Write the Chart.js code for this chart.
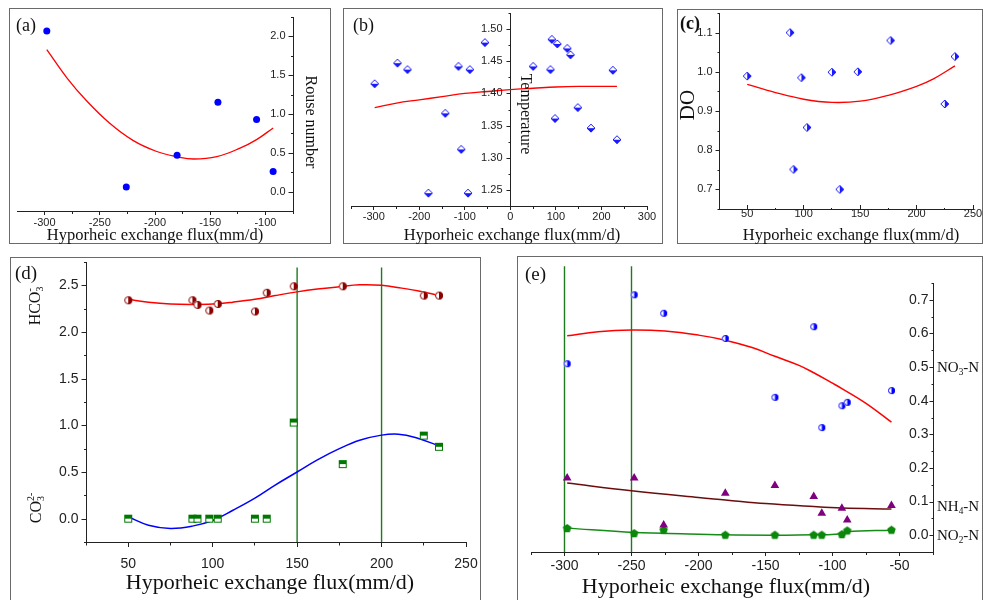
<!DOCTYPE html>
<html>
<head>
<meta charset="utf-8">
<script src="https://cdn.jsdelivr.net/npm/chart.js@4.4.1/dist/chart.umd.min.js"></script>
<style>
html, body { margin: 0; padding: 0; background: #fff; }
#wrap { position: relative; width: 983px; height: 600px; overflow: hidden; background: #fff; }
#wrap canvas { position: absolute; left: 0; top: 0; }
.box { position: absolute; border: 1px solid #6a6a6a; box-sizing: border-box; }
</style>
</head>
<body>
<div id="wrap">
  <div class="box" style="left:9px;top:8px;width:322px;height:236px"></div>
  <div class="box" style="left:343px;top:8px;width:320px;height:236px"></div>
  <div class="box" style="left:677px;top:9px;width:306px;height:235px"></div>
  <div class="box" style="left:10px;top:257px;width:471px;height:350px"></div>
  <div class="box" style="left:517px;top:256px;width:466px;height:350px"></div>
  <canvas id="ca" width="983" height="600"></canvas>
  <canvas id="cb" width="983" height="600"></canvas>
  <canvas id="cc" width="983" height="600"></canvas>
  <canvas id="cd" width="983" height="600"></canvas>
  <canvas id="ce" width="983" height="600"></canvas>
</div>
<script>
// (a) Rouse number
const rouseFlux = [-298, -226, -180, -143, -108, -93];
const rouseNum = [2.07, 0.06, 0.47, 1.15, 0.93, 0.26];
const rouseFitFlux = [-298, -280, -262, -241, -220, -199, -180, -165, -144, -123, -108, -93];
const rouseFitVal = [1.83, 1.47, 1.17, 0.88, 0.66, 0.52, 0.45, 0.42, 0.45, 0.56, 0.67, 0.82];

// (b) temperature
const tempFlux = [-298, -248, -226, -180, -143, -114, -108, -93, -89, -56, 50, 88, 91, 98, 103, 125, 132, 148, 177, 225, 234];
const tempVal = [1.415, 1.447, 1.437, 1.245, 1.369, 1.442, 1.313, 1.245, 1.437, 1.479, 1.442, 1.437, 1.484, 1.361, 1.477, 1.470, 1.460, 1.378, 1.346, 1.436, 1.328];
const tempFitFlux = [-298, -250, -200, -150, -100, -50, 0, 50, 100, 150, 200, 234];
const tempFitVal = [1.378, 1.385, 1.390, 1.395, 1.400, 1.403, 1.406, 1.408, 1.410, 1.411, 1.411, 1.411];

// (c) DO
const doFlux = [50, 88, 91, 98, 103, 125, 132, 148, 177, 225, 234];
const doVal = [0.989, 1.10, 0.751, 0.985, 0.858, 0.999, 0.70, 1.0, 1.08, 0.918, 1.039];
const doFitFlux = [50, 75, 100, 125, 150, 175, 200, 215, 234];
const doFitVal = [0.968, 0.947, 0.930, 0.922, 0.925, 0.940, 0.963, 0.982, 1.015];

// (d) HCO3- / CO3 2-
const carbFlux = [50, 88, 91, 98, 103, 125, 132, 148, 177, 225, 234];
const hco3 = [2.34, 2.34, 2.29, 2.23, 2.30, 2.22, 2.42, 2.49, 2.49, 2.39, 2.39];
const co3 = [0, 0, 0, 0, 0, 0, 0, 1.03, 0.585, 0.89, 0.77];
const hco3FitFlux = [50, 62, 75, 87, 100, 112, 125, 137, 150, 162, 175, 187, 200, 212, 222, 234];
const hco3FitVal = [2.35, 2.32, 2.30, 2.295, 2.30, 2.32, 2.35, 2.39, 2.43, 2.46, 2.485, 2.505, 2.50, 2.47, 2.44, 2.39];
const co3FitFlux = [50, 62, 75, 88, 100, 112, 125, 137, 150, 162, 175, 187, 200, 210, 220, 234];
const co3FitVal = [0.02, -0.07, -0.105, -0.08, -0.02, 0.09, 0.22, 0.36, 0.5, 0.63, 0.75, 0.84, 0.895, 0.905, 0.87, 0.78];
const carbMarks = [150, 200];
const carbMarkSpan = [-0.25, 2.69];

// (e) nitrogen
const nFlux = [-298, -248, -226, -180, -143, -114, -108, -93, -89, -56];
const no3 = [0.51, 0.715, 0.66, 0.585, 0.41, 0.62, 0.32, 0.385, 0.395, 0.43];
const nh4 = [0.17, 0.17, 0.03, 0.125, 0.148, 0.115, 0.065, 0.08, 0.045, 0.088];
const no2 = [0.02, 0.005, 0.015, 0.0, 0.0, 0.0, 0.0, 0.002, 0.013, 0.015];
const no3FitFlux = [-298, -275, -250, -225, -200, -180, -160, -143, -125, -114, -100, -93, -75, -56];
const no3FitVal = [0.593, 0.605, 0.61, 0.607, 0.595, 0.58, 0.558, 0.532, 0.505, 0.483, 0.452, 0.436, 0.392, 0.336];
const nh4FitFlux = [-298, -250, -200, -180, -150, -114, -93, -56];
const nh4FitVal = [0.155, 0.132, 0.112, 0.105, 0.094, 0.085, 0.081, 0.078];
const no2FitVal = [0.021, 0.008, 0.006, 0.001, 0.0, 0.001, 0.001, 0.004, 0.01, 0.015];
const nMarks = [-300, -250];
const nMarkSpan = [-0.05, 0.80];

// tick values
const xTicksA = [-300, -250, -200, -150, -100], xMinorA = [-275, -225, -175, -125, -75];
const yTicksA = [0, 0.5, 1, 1.5, 2], yMinorA = [-0.25, 0.25, 0.75, 1.25, 1.75, 2.25];
const xTicksB = [-300, -200, -100, 0, 100, 200, 300], xMinorB = [-350, -250, -150, -50, 50, 150, 250];
const yTicksB = [1.25, 1.30, 1.35, 1.40, 1.45, 1.50], yMinorB = [1.275, 1.325, 1.375, 1.425, 1.475, 1.525];
const xTicksC = [50, 100, 150, 200, 250], xMinorC = [25, 75, 125, 175, 225];
const yTicksC = [0.7, 0.8, 0.9, 1.0, 1.1], yMinorC = [0.65, 0.75, 0.85, 0.95, 1.05, 1.15];
const xTicksD = [50, 100, 150, 200, 250], xMinorD = [25, 75, 125, 175, 225];
const yTicksD = [0, 0.5, 1, 1.5, 2, 2.5], yMinorD = [-0.25, 0.25, 0.75, 1.25, 1.75, 2.25, 2.75];
const xTicksE = [-300, -250, -200, -150, -100, -50], xMinorE = [-325, -275, -225, -175, -125, -75, -25];
const yTicksE = [0, 0.1, 0.2, 0.3, 0.4, 0.5, 0.6, 0.7], yMinorE = [-0.05, 0.05, 0.15, 0.25, 0.35, 0.45, 0.55, 0.65, 0.75];

Chart.defaults.font.family = '"Liberation Sans", Arial, sans-serif';
Chart.defaults.color = '#222';

const SANS = '"Liberation Sans", Arial, sans-serif';
const SERIF = '"Liberation Serif", "Times New Roman", serif';
const pts = (xs, ys) => xs.map((x, i) => ({ x, y: ys[i] }));
const vline = (x, span) => [{ x, y: span[0] }, { x, y: span[1] }];
const f0 = v => String(v), f1 = v => v.toFixed(1), f2 = v => v.toFixed(2);

// small marker images (half filled symbols as in Origin)
function makeMarker(size, paint) {
    const c = document.createElement('canvas');
    c.width = size; c.height = size;
    paint(c.getContext('2d'), size / 2);
    return c;
}
const halfCircle = (color, d) => makeMarker(d + 2, (g, c) => {
    const r = d / 2;
    g.fillStyle = '#fff';
    g.beginPath(); g.arc(c, c, r, 0, Math.PI * 2); g.fill();
    g.fillStyle = color;
    g.beginPath(); g.arc(c, c, r, -Math.PI / 2, Math.PI / 2); g.closePath(); g.fill();
    g.strokeStyle = color; g.lineWidth = 1;
    g.beginPath(); g.arc(c, c, r - 0.5, 0, Math.PI * 2); g.stroke();
});
const halfDiamond = (color, d, side) => makeMarker(d + 2, (g, c) => {
    const r = d / 2;
    const path = () => { g.beginPath(); g.moveTo(c, c - r); g.lineTo(c + r, c); g.lineTo(c, c + r); g.lineTo(c - r, c); g.closePath(); };
    path(); g.fillStyle = '#fff'; g.fill();
    g.save();
    g.beginPath();
    if (side === 'bottom') g.rect(0, c, 2 * c, c); else g.rect(c, 0, c, 2 * c);
    g.clip();
    path(); g.fillStyle = color; g.fill();
    g.restore();
    path(); g.strokeStyle = color; g.lineWidth = 1; g.stroke();
});
const halfSquare = (color, d) => makeMarker(d + 2, (g, c) => {
    const h = d / 2;
    g.fillStyle = '#fff'; g.fillRect(c - h, c - h, d, d);
    g.fillStyle = color; g.fillRect(c - h, c - h, d, h);
    g.strokeStyle = color; g.lineWidth = 1; g.strokeRect(c - h + 0.5, c - h + 0.5, d - 1, d - 1);
});
const pentagon = (color, d) => makeMarker(d + 2, (g, c) => {
    const r = d / 2;
    g.beginPath();
    for (let i = 0; i < 5; i++) {
        const a = -Math.PI / 2 + i * 2 * Math.PI / 5;
        g.lineTo(c + r * Math.cos(a), c + r * Math.sin(a));
    }
    g.closePath(); g.fillStyle = color; g.fill();
});

// rich text: parts [{t, s:'sub'|'sup', over}] ; positions in page px
function drawRich(ctx, it) {
    const font = s => (it.bold ? 'bold ' : '') + s + 'px ' + SERIF;
    let x = 0, prevX = 0;
    const parts = it.parts.map(p => {
        const s = p.s ? it.size * 0.62 : it.size;
        ctx.font = font(s);
        const w = ctx.measureText(p.t).width;
        const x0 = p.over ? prevX : x;
        prevX = x0;
        x = Math.max(x, x0 + w);
        return { t: p.t, s, x0, dy: p.s === 'sub' ? it.size * 0.3 : p.s === 'sup' ? -it.size * 0.33 : 0 };
    });
    const start = it.align === 'left' ? 0 : -x / 2;
    ctx.save();
    ctx.translate(it.x, it.y);
    if (it.rot) ctx.rotate(it.rot);
    ctx.fillStyle = '#111';
    ctx.textBaseline = 'middle';
    ctx.textAlign = 'left';
    parts.forEach(p => { ctx.font = font(p.s); ctx.fillText(p.t, start + p.x0, p.dy); });
    ctx.restore();
}
const plain = t => [{ t }];
const xTitle = (x, y, size) => ({ parts: plain('Hyporheic exchange flux(mm/d)'), x, y, size });

// y axis ticks + labels, placed with the chart's own scales (ticks point left)
function drawYTicks(chart, ya) {
    const ctx = chart.ctx, sy = chart.scales.y;
    const ax = Math.round(chart.scales.x.getPixelForValue(ya.at)) + 0.5;
    ctx.save();
    ctx.strokeStyle = '#222'; ctx.lineWidth = 1;
    ctx.beginPath();
    ya.major.forEach(v => { const y = Math.round(sy.getPixelForValue(v)) + 0.5; ctx.moveTo(ax, y); ctx.lineTo(ax - ya.tl, y); });
    ya.minor.forEach(v => { const y = Math.round(sy.getPixelForValue(v)) + 0.5; ctx.moveTo(ax, y); ctx.lineTo(ax - ya.tl / 2, y); });
    ctx.stroke();
    ctx.fillStyle = '#222';
    ctx.font = ya.fs + 'px ' + SANS;
    ctx.textAlign = 'right'; ctx.textBaseline = 'middle';
    ya.major.forEach(v => ctx.fillText(ya.fmt(v), ax - ya.tl - ya.pad, sy.getPixelForValue(v)));
    ctx.restore();
}
const overlay = (texts, ya) => ({
    id: 'panelText',
    afterDraw(chart) {
        drawYTicks(chart, ya);
        texts.forEach(it => drawRich(chart.ctx, it));
    }
});

function axisX(major, minor, fmt, o) {
    return {
        type: 'linear', position: 'bottom', min: o.min, max: o.max,
        afterBuildTicks: s => { s.ticks = major.concat(minor).sort((a, b) => a - b).map(v => ({ value: v })); },
        afterFit: s => { s.height = 40; s.paddingLeft = 0; s.paddingRight = 0; },
        border: { color: '#222', width: 1 },
        grid: {
            drawOnChartArea: false, drawTicks: true, tickLength: o.tl, tickColor: '#222', tickWidth: 1,
            tickBorderDash: c => (c.tick && !major.includes(c.tick.value)) ? [Math.abs(o.tl) / 2, 100] : []
        },
        ticks: {
            autoSkip: false, maxRotation: 0, padding: o.pad, font: { size: o.fs }, color: '#222',
            callback: v => major.includes(v) ? fmt(v) : ''
        }
    };
}
function axisY(ya) {
    return {
        type: 'linear', axis: 'y', position: { x: ya.at }, min: ya.min, max: ya.max,
        border: { color: '#222', width: 1 },
        grid: { drawOnChartArea: false, drawTicks: false },
        ticks: { display: false }
    };
}

const fitLine = (data, color, w) => ({ data, showLine: true, pointRadius: 0, borderColor: color, borderWidth: w || 1.5, tension: 0.4, fill: false, order: 5 });
const markLine = (data, color) => ({ data, showLine: true, pointRadius: 0, borderColor: color, borderWidth: 1.4, tension: 0, clip: false, order: 6 });
const scatter = (data, style, color, r) => ({ data, showLine: false, pointStyle: style, pointRadius: r || 4, backgroundColor: color, borderColor: color, borderWidth: 0, order: 1 });

function panel(id, rect, datasets, xAxis, ya, texts) {
    return new Chart(document.getElementById(id), {
        type: 'scatter',
        data: { datasets },
        options: {
            responsive: false, animation: false, events: [],
            layout: { padding: { left: rect.l, top: rect.t, right: 983 - rect.r, bottom: 600 - rect.b - 40 } },
            plugins: { legend: { display: false }, tooltip: { enabled: false } },
            scales: { x: xAxis, y: axisY(ya) }
        },
        plugins: [overlay(texts, ya)]
    });
}

// (a)
panel('ca', { l: 17, t: 17, r: 293, b: 211 }, [
    scatter(pts(rouseFlux, rouseNum), 'circle', '#0000ff', 3.5),
    fitLine(pts(rouseFitFlux, rouseFitVal), '#ff0000', 1.3)
], axisX(xTicksA, xMinorA, f0, { min: -325, max: -75, tl: 4, pad: 1, fs: 11 }),
{ major: yTicksA, minor: yMinorA, fmt: f1, min: -0.25, max: 2.25, tl: 5, pad: 3, fs: 11, at: -75 },
[
    { parts: plain('(a)'), x: 16, y: 26, size: 18, align: 'left' },
    { parts: plain('Rouse number'), x: 310, y: 122, size: 16, rot: Math.PI / 2 },
    xTitle(155, 236, 16.5)
]);

// (b)
panel('cb', { l: 351, t: 13, r: 647, b: 206 }, [
    scatter(pts(tempFlux, tempVal), halfDiamond('#1a1aff', 8, 'bottom'), '#1a1aff'),
    fitLine(pts(tempFitFlux, tempFitVal), '#ff0000', 1.3)
], axisX(xTicksB, xMinorB, f0, { min: -350, max: 300, tl: 4, pad: 0, fs: 11 }),
{ major: yTicksB, minor: yMinorB, fmt: f2, min: 1.225, max: 1.525, tl: 4, pad: 4, fs: 11, at: 0 },
[
    { parts: plain('(b)'), x: 353, y: 26, size: 18, align: 'left' },
    { parts: plain('Temperature'), x: 525, y: 114, size: 16, rot: Math.PI / 2 },
    xTitle(512, 236, 16.5)
]);

// (c)
panel('cc', { l: 719, t: 13, r: 973, b: 209 }, [
    scatter(pts(doFlux, doVal), halfDiamond('#1a1aff', 8, 'right'), '#1a1aff'),
    fitLine(pts(doFitFlux, doFitVal), '#ff0000', 1.3)
], axisX(xTicksC, xMinorC, f0, { min: 25, max: 250, tl: -4, pad: 2, fs: 11 }),
{ major: yTicksC, minor: yMinorC, fmt: f1, min: 0.65, max: 1.15, tl: 4, pad: 3, fs: 11, at: 25 },
[
    { parts: plain('(c)'), x: 680, y: 24, size: 18, align: 'left', bold: true },
    { parts: plain('DO'), x: 688, y: 105, size: 21, rot: -Math.PI / 2 },
    xTitle(851, 236, 16.5)
]);

// (d)
panel('cd', { l: 86, t: 262, r: 466, b: 542 }, [
    scatter(pts(carbFlux, hco3), halfCircle('#8b0000', 8), '#8b0000'),
    scatter(pts(carbFlux, co3), halfSquare('#007800', 8), '#007800'),
    fitLine(pts(hco3FitFlux, hco3FitVal), '#ff0000', 1.5),
    fitLine(pts(co3FitFlux, co3FitVal), '#0000ff', 1.5),
    ...carbMarks.map(v => markLine(vline(v, carbMarkSpan), '#1e7a1e'))
], axisX(xTicksD, xMinorD, f0, { min: 25, max: 250, tl: 5, pad: 9, fs: 14 }),
{ major: yTicksD, minor: yMinorD, fmt: f1, min: -0.25, max: 2.75, tl: 5, pad: 3, fs: 14, at: 25 },
[
    { parts: plain('(d)'), x: 15, y: 274, size: 19, align: 'left' },
    { parts: [{ t: 'HCO' }, { t: '3', s: 'sub' }, { t: '-', s: 'sup', over: true }], x: 36, y: 306, size: 16, rot: -Math.PI / 2 },
    { parts: [{ t: 'CO' }, { t: '3', s: 'sub' }, { t: '2-', s: 'sup', over: true }], x: 37, y: 508, size: 16, rot: -Math.PI / 2 },
    xTitle(270, 583, 22)
]);

// (e)
panel('ce', { l: 531, t: 283, r: 933, b: 552 }, [
    scatter(pts(nFlux, no3), halfCircle('#0000ff', 7), '#0000ff'),
    scatter(pts(nFlux, nh4), 'triangle', '#800080', 5),
    scatter(pts(nFlux, no2), pentagon('#0b870b', 9), '#0b870b'),
    fitLine(pts(no3FitFlux, no3FitVal), '#ff0000', 1.5),
    fitLine(pts(nh4FitFlux, nh4FitVal), '#6b0d0d', 1.5),
    fitLine(pts(nFlux, no2FitVal), '#158c15', 1.5),
    ...nMarks.map(v => markLine(vline(v, nMarkSpan), '#1e7a1e'))
], axisX(xTicksE, xMinorE, f0, { min: -325, max: -25, tl: 4, pad: 2, fs: 14 }),
{ major: yTicksE, minor: yMinorE, fmt: f1, min: -0.05, max: 0.75, tl: 4, pad: 1, fs: 14, at: -25 },
[
    { parts: plain('(e)'), x: 525, y: 275, size: 19, align: 'left' },
    { parts: [{ t: 'NO' }, { t: '3', s: 'sub' }, { t: '-N' }], x: 937, y: 368, size: 15, align: 'left' },
    { parts: [{ t: 'NH' }, { t: '4', s: 'sub' }, { t: '-N' }], x: 937, y: 507, size: 15, align: 'left' },
    { parts: [{ t: 'NO' }, { t: '2', s: 'sub' }, { t: '-N' }], x: 937, y: 536, size: 15, align: 'left' },
    xTitle(726, 587, 22)
]);
</script>
</body>
</html>
